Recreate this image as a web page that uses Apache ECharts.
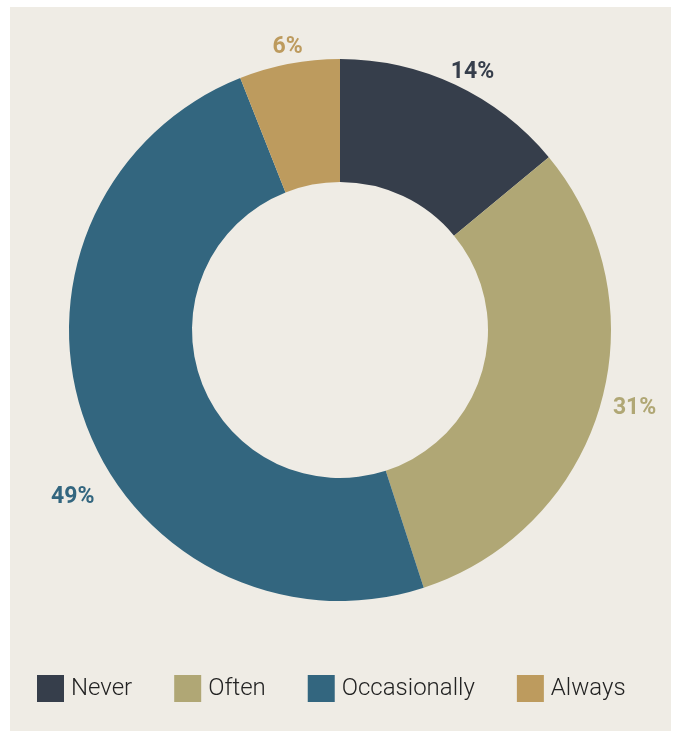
<!DOCTYPE html>
<html><head><meta charset="utf-8">
<script src="https://cdn.jsdelivr.net/npm/echarts@6/dist/echarts.min.js"></script>
<style>html,body{margin:0;padding:0;background:#fff;}#c{width:678px;height:731px;}</style>
</head><body><div id="c"></div>
<script>
const categories = ['Never', 'Often', 'Occasionally', 'Always'];
const values = [14, 31, 49, 6];
const colors = ['#363e4b', '#b0a775', '#33667f', '#bd9b5e'];
// small nudges of the outside labels to match the reference placement
const labelNudge = [[-13, -5], [0, 0], [22, 73], [20, -9]];

const chart = echarts.init(document.getElementById('c'));
chart.setOption({
  animation: false,
  backgroundColor: '#ffffff',
  graphic: [{ type: 'rect', z: -10, silent: true, shape: { x: 10, y: 7, width: 661, height: 730 }, style: { fill: '#efece5' } }],
  color: colors,
  legend: {
    top: 675, left: 37, padding: 0,
    itemWidth: 27, itemHeight: 27, itemGap: 42,
    icon: 'rect',
    textStyle: { fontFamily: 'Roboto', fontSize: 24, fontWeight: 300, color: '#222222', padding: [0, 0, 0, 2] },
    data: categories
  },
  series: [{
    type: 'pie',
    center: [340, 330],
    radius: [148, 271],
    startAngle: 90,
    clockwise: true,
    avoidLabelOverlap: false,
    data: categories.map((n, i) => ({ name: n, value: values[i], label: { color: colors[i] } })),
    label: {
      show: true, position: 'outside',
      formatter: p => p.value + '%',
      fontFamily: 'Roboto', fontSize: 23, fontWeight: 'bold'
    },
    labelLine: { show: false, length: 8, length2: 0 },
    labelLayout: p => ({ dx: labelNudge[p.dataIndex][0], dy: labelNudge[p.dataIndex][1] }),
    itemStyle: { borderWidth: 0 },
    emphasis: { disabled: true }
  }]
});
</script></body></html>
